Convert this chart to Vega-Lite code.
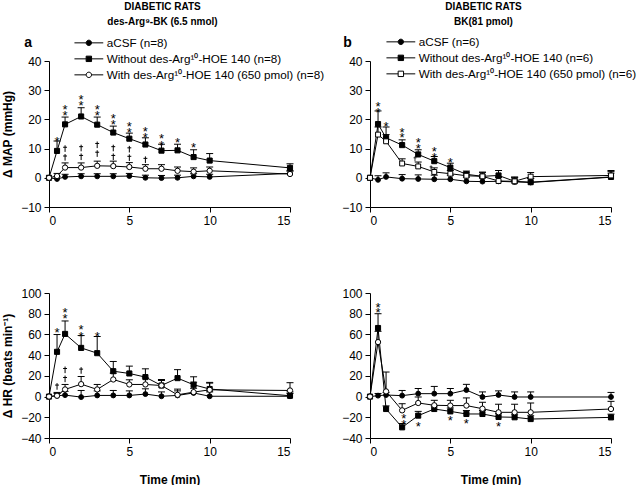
{
"$schema": "https://vega.github.io/schema/vega-lite/v6.json",
"background": "white",
"padding": {"left": 1, "top": 2, "right": 0, "bottom": 0},
"autosize": {"type": "pad"},
"columns": 2,
"spacing": {"row": 86, "column": 80},
"bounds": "flush",
"resolve": {"scale": {"shape": "independent", "fill": "independent", "stroke": "independent"}, "legend": {"shape": "independent", "fill": "independent", "stroke": "independent"}},
"config": {
  "view": {"stroke": null},
  "font": "Liberation Sans",
  "axis": {"domainColor": "black", "tickColor": "black", "labelColor": "black", "labelFont": "Liberation Sans", "labelFontSize": 12, "tickSize": 5, "labelPadding": 3, "grid": false, "labelOverlap": false, "titleFont": "Liberation Sans", "titleFontSize": 12, "titleFontWeight": "bold", "titleColor": "black"},
  "title": {"font": "Liberation Sans", "fontSize": 10, "fontWeight": "bold", "color": "black", "anchor": "middle", "lineHeight": 15, "offset": 9}
},
"datasets": {
  "d": [
    {"p":"aT","s":"aCSF","t":0,"v":0},{"p":"aT","s":"aCSF","t":0.5,"v":-0.4,"hi":0.5},{"p":"aT","s":"aCSF","t":1,"v":0.3,"hi":1.2},{"p":"aT","s":"aCSF","t":2,"v":0.5,"hi":1.4},{"p":"aT","s":"aCSF","t":3,"v":0.5,"hi":1.4},{"p":"aT","s":"aCSF","t":4,"v":0.5,"hi":1.4},{"p":"aT","s":"aCSF","t":5,"v":0.6,"hi":1.5},{"p":"aT","s":"aCSF","t":6,"v":0,"hi":0.9},{"p":"aT","s":"aCSF","t":7,"v":-0.1,"hi":0.8},{"p":"aT","s":"aCSF","t":8,"v":0,"hi":0.9},{"p":"aT","s":"aCSF","t":9,"v":0.5,"hi":1.4},{"p":"aT","s":"aCSF","t":10,"v":0.3,"hi":1.2},{"p":"aT","s":"aCSF","t":15,"v":1.5,"hi":2.4},
    {"p":"aT","s":"Without","t":0,"v":0},{"p":"aT","s":"Without","t":0.5,"v":9.2,"hi":12.6},{"p":"aT","s":"Without","t":1,"v":18.3,"hi":20.8},{"p":"aT","s":"Without","t":2,"v":21,"hi":24},{"p":"aT","s":"Without","t":3,"v":18.2,"hi":20.8},{"p":"aT","s":"Without","t":4,"v":15.5,"hi":17.7},{"p":"aT","s":"Without","t":5,"v":13.4,"hi":15.3},{"p":"aT","s":"Without","t":6,"v":11.4,"hi":13.7},{"p":"aT","s":"Without","t":7,"v":9.3,"hi":11.5},{"p":"aT","s":"Without","t":8,"v":9.4,"hi":11.5},{"p":"aT","s":"Without","t":9,"v":7.1,"hi":9.6},{"p":"aT","s":"Without","t":10,"v":5.9,"hi":8.3},{"p":"aT","s":"Without","t":15,"v":3.4,"hi":4.8},
    {"p":"aT","s":"With","t":0,"v":0},{"p":"aT","s":"With","t":0.5,"v":0.6,"hi":1.5},{"p":"aT","s":"With","t":1,"v":3.5,"hi":5.1},{"p":"aT","s":"With","t":2,"v":3.5,"hi":5.1},{"p":"aT","s":"With","t":3,"v":4.1,"hi":5.7},{"p":"aT","s":"With","t":4,"v":4,"hi":5.7},{"p":"aT","s":"With","t":5,"v":3.7,"hi":5.2},{"p":"aT","s":"With","t":6,"v":3.1,"hi":4.5},{"p":"aT","s":"With","t":7,"v":3.1,"hi":4.5},{"p":"aT","s":"With","t":8,"v":2.4,"hi":3.7},{"p":"aT","s":"With","t":9,"v":2.1,"hi":3.4},{"p":"aT","s":"With","t":10,"v":2.4,"hi":3.7},{"p":"aT","s":"With","t":15,"v":1.3,"hi":2.3},

    {"p":"bT","s":"aCSF","t":0,"v":0},{"p":"bT","s":"aCSF","t":0.5,"v":-0.7,"hi":0.7},{"p":"bT","s":"aCSF","t":1,"v":0.3,"hi":1.7},{"p":"bT","s":"aCSF","t":2,"v":-0.3,"hi":1.1},{"p":"bT","s":"aCSF","t":3,"v":-0.4,"hi":1.0},{"p":"bT","s":"aCSF","t":4,"v":-0.5,"hi":0.9},{"p":"bT","s":"aCSF","t":5,"v":-0.5,"hi":0.9},{"p":"bT","s":"aCSF","t":6,"v":-1.2,"hi":0.2},{"p":"bT","s":"aCSF","t":7,"v":-1.3,"hi":0.1},{"p":"bT","s":"aCSF","t":8,"v":-1.2,"hi":0.2},{"p":"bT","s":"aCSF","t":9,"v":-1.4,"hi":0},{"p":"bT","s":"aCSF","t":10,"v":-1.6,"hi":-0.2},{"p":"bT","s":"aCSF","t":15,"v":0.2,"hi":1.6},
    {"p":"bT","s":"Without","t":0,"v":0},{"p":"bT","s":"Without","t":0.5,"v":18.4,"hi":22.9},{"p":"bT","s":"Without","t":1,"v":13.7,"hi":17.4},{"p":"bT","s":"Without","t":2,"v":11.2,"hi":13},{"p":"bT","s":"Without","t":3,"v":8,"hi":9.6},{"p":"bT","s":"Without","t":4,"v":5.7,"hi":7.3},{"p":"bT","s":"Without","t":5,"v":3.5,"hi":5},{"p":"bT","s":"Without","t":6,"v":1.2,"hi":2.3},{"p":"bT","s":"Without","t":7,"v":0.5,"hi":1.9},{"p":"bT","s":"Without","t":8,"v":0.8,"hi":2.5},{"p":"bT","s":"Without","t":9,"v":-1.2,"hi":0.3},{"p":"bT","s":"Without","t":10,"v":-1.5,"hi":-0.3},{"p":"bT","s":"Without","t":15,"v":0.3,"hi":2.5},
    {"p":"bT","s":"With","t":0,"v":0},{"p":"bT","s":"With","t":0.5,"v":14.8,"hi":17.4},{"p":"bT","s":"With","t":1,"v":12.5,"hi":14.8},{"p":"bT","s":"With","t":2,"v":4.9,"hi":6.5},{"p":"bT","s":"With","t":3,"v":3.9,"hi":5.4},{"p":"bT","s":"With","t":4,"v":2,"hi":3.4},{"p":"bT","s":"With","t":5,"v":1.4,"hi":2.5},{"p":"bT","s":"With","t":6,"v":0.7,"hi":1.9},{"p":"bT","s":"With","t":7,"v":0.5,"hi":1.9},{"p":"bT","s":"With","t":8,"v":-1.1,"hi":0.3},{"p":"bT","s":"With","t":9,"v":-1.2,"hi":0},{"p":"bT","s":"With","t":10,"v":0.4,"hi":1.8},{"p":"bT","s":"With","t":15,"v":0.8,"hi":2.2},

    {"p":"aB","s":"aCSF","t":0,"v":0},{"p":"aB","s":"aCSF","t":0.5,"v":0.8,"hi":4},{"p":"aB","s":"aCSF","t":1,"v":1.4,"hi":5},{"p":"aB","s":"aCSF","t":2,"v":-0.5,"hi":5.9},{"p":"aB","s":"aCSF","t":3,"v":1.1,"hi":5.5},{"p":"aB","s":"aCSF","t":4,"v":1.1,"hi":5.9},{"p":"aB","s":"aCSF","t":5,"v":1.1,"hi":5.5},{"p":"aB","s":"aCSF","t":6,"v":2.4,"hi":7.5},{"p":"aB","s":"aCSF","t":7,"v":0.3,"hi":4.5},{"p":"aB","s":"aCSF","t":8,"v":1.1,"hi":5.5},{"p":"aB","s":"aCSF","t":9,"v":3.5,"hi":8},{"p":"aB","s":"aCSF","t":10,"v":0.3,"hi":4.5},{"p":"aB","s":"aCSF","t":15,"v":0.3,"hi":4.5},
    {"p":"aB","s":"Without","t":0,"v":0},{"p":"aB","s":"Without","t":0.5,"v":43.2,"hi":59.9},{"p":"aB","s":"Without","t":1,"v":60.5,"hi":73},{"p":"aB","s":"Without","t":2,"v":47,"hi":58.9},{"p":"aB","s":"Without","t":3,"v":41.9,"hi":58},{"p":"aB","s":"Without","t":4,"v":24.5,"hi":33.9},{"p":"aB","s":"Without","t":5,"v":22.3,"hi":29.4},{"p":"aB","s":"Without","t":6,"v":18.8,"hi":26.8},{"p":"aB","s":"Without","t":7,"v":10.7,"hi":16.5},{"p":"aB","s":"Without","t":8,"v":17.8,"hi":26},{"p":"aB","s":"Without","t":9,"v":11.4,"hi":19.1},{"p":"aB","s":"Without","t":10,"v":7.3,"hi":13.7},{"p":"aB","s":"Without","t":15,"v":0.8,"hi":3},
    {"p":"aB","s":"With","t":0,"v":0},{"p":"aB","s":"With","t":0.5,"v":0.8,"hi":3},{"p":"aB","s":"With","t":1,"v":6.9,"hi":11.7},{"p":"aB","s":"With","t":2,"v":12,"hi":19.4},{"p":"aB","s":"With","t":3,"v":6.9,"hi":11.7},{"p":"aB","s":"With","t":4,"v":16.5,"hi":22.6},{"p":"aB","s":"With","t":5,"v":11.7,"hi":16.2},{"p":"aB","s":"With","t":6,"v":11.7,"hi":18},{"p":"aB","s":"With","t":7,"v":10.7,"hi":15.5},{"p":"aB","s":"With","t":8,"v":1.7,"hi":7.2},{"p":"aB","s":"With","t":9,"v":4.3,"hi":13.9},{"p":"aB","s":"With","t":10,"v":6.5,"hi":13},{"p":"aB","s":"With","t":15,"v":5.9,"hi":13.4},

    {"p":"bB","s":"aCSF","t":0,"v":0},{"p":"bB","s":"aCSF","t":0.5,"v":0.9,"hi":3},{"p":"bB","s":"aCSF","t":1,"v":1.5,"hi":4},{"p":"bB","s":"aCSF","t":2,"v":0.9,"hi":5.9},{"p":"bB","s":"aCSF","t":3,"v":2.8,"hi":7.8},{"p":"bB","s":"aCSF","t":4,"v":2.8,"hi":9.8},{"p":"bB","s":"aCSF","t":5,"v":2.8,"hi":7.8},{"p":"bB","s":"aCSF","t":6,"v":6.3,"hi":11.8},{"p":"bB","s":"aCSF","t":7,"v":-0.4,"hi":4.5},{"p":"bB","s":"aCSF","t":8,"v":1.5,"hi":5.5},{"p":"bB","s":"aCSF","t":9,"v":-0.4,"hi":4.5},{"p":"bB","s":"aCSF","t":10,"v":-0.4,"hi":4.5},{"p":"bB","s":"aCSF","t":15,"v":-0.4,"hi":4},
    {"p":"bB","s":"Without","t":0,"v":0},{"p":"bB","s":"Without","t":0.5,"v":66.2,"hi":80},{"p":"bB","s":"Without","t":1,"v":-12,"hi":-9},{"p":"bB","s":"Without","t":2,"v":-29.7,"hi":-26},{"p":"bB","s":"Without","t":3,"v":-18.4,"hi":-14.3},{"p":"bB","s":"Without","t":4,"v":-12,"hi":-9},{"p":"bB","s":"Without","t":5,"v":-14.3,"hi":-11},{"p":"bB","s":"Without","t":6,"v":-16.8,"hi":-13.5},{"p":"bB","s":"Without","t":7,"v":-16.8,"hi":-13.5},{"p":"bB","s":"Without","t":8,"v":-19.7,"hi":-16.5},{"p":"bB","s":"Without","t":9,"v":-20,"hi":-17},{"p":"bB","s":"Without","t":10,"v":-21.7,"hi":-18.5},{"p":"bB","s":"Without","t":15,"v":-20.1,"hi":-17},
    {"p":"bB","s":"With","t":0,"v":0},{"p":"bB","s":"With","t":0.5,"v":52.6,"hi":63},{"p":"bB","s":"With","t":1,"v":5,"hi":23.7},{"p":"bB","s":"With","t":2,"v":-13.3,"hi":-6.9},{"p":"bB","s":"With","t":3,"v":-6.2,"hi":-0.4},{"p":"bB","s":"With","t":4,"v":-8.4,"hi":-3.6},{"p":"bB","s":"With","t":5,"v":-8.7,"hi":-3.6},{"p":"bB","s":"With","t":6,"v":-8.7,"hi":-1.3},{"p":"bB","s":"With","t":7,"v":-11.7,"hi":-5.5},{"p":"bB","s":"With","t":8,"v":-15.2,"hi":-7.4},{"p":"bB","s":"With","t":9,"v":-15.2,"hi":-7.4},{"p":"bB","s":"With","t":10,"v":-15.2,"hi":-6.2},{"p":"bB","s":"With","t":15,"v":-12,"hi":-4.6}
  ],
  "ann": [
    {"p":"aT","t":0.5,"v":13.4,"m":"*"},{"p":"aT","t":1,"v":24.2,"m":"*"},{"p":"aT","t":1,"v":22.1,"m":"*"},{"p":"aT","t":2,"v":27.7,"m":"*"},{"p":"aT","t":2,"v":25.5,"m":"*"},{"p":"aT","t":3,"v":24.2,"m":"*"},{"p":"aT","t":3,"v":22.1,"m":"*"},{"p":"aT","t":4,"v":21,"m":"*"},{"p":"aT","t":4,"v":19,"m":"*"},{"p":"aT","t":5,"v":18.5,"m":"*"},{"p":"aT","t":5,"v":16.4,"m":"*"},{"p":"aT","t":6,"v":16.8,"m":"*"},{"p":"aT","t":6,"v":14.6,"m":"*"},{"p":"aT","t":7,"v":14.2,"m":"*"},{"p":"aT","t":7,"v":12,"m":"*"},{"p":"aT","t":8,"v":13,"m":"*"},{"p":"aT","t":9,"v":11.3,"m":"*"},
    {"p":"aT","t":1,"v":10,"m":"†"},{"p":"aT","t":1,"v":7,"m":"†"},{"p":"aT","t":2,"v":10.2,"m":"†"},{"p":"aT","t":2,"v":7.2,"m":"†"},{"p":"aT","t":3,"v":11.3,"m":"†"},{"p":"aT","t":3,"v":8.3,"m":"†"},{"p":"aT","t":4,"v":10.2,"m":"†"},{"p":"aT","t":4,"v":7.2,"m":"†"},{"p":"aT","t":5,"v":9.8,"m":"†"},{"p":"aT","t":5,"v":6.9,"m":"†"},{"p":"aT","t":6,"v":6.2,"m":"†"},
    {"p":"bT","t":0.5,"v":25.2,"m":"*"},{"p":"bT","t":0.5,"v":23.1,"m":"*"},{"p":"bT","t":1,"v":18.5,"m":"*"},{"p":"bT","t":2,"v":16.5,"m":"*"},{"p":"bT","t":2,"v":14.5,"m":"*"},{"p":"bT","t":3,"v":12.8,"m":"*"},{"p":"bT","t":3,"v":10.8,"m":"*"},{"p":"bT","t":4,"v":10,"m":"*"},{"p":"bT","t":4,"v":7.9,"m":"*"},{"p":"bT","t":5,"v":6.2,"m":"*"},
    {"p":"bT","t":2.8,"v":6.5,"m":"†"},{"p":"bT","t":3.8,"v":3.4,"m":"†"},
    {"p":"aB","t":0.5,"v":64.7,"m":"*"},{"p":"aB","t":1,"v":83.9,"m":"*"},{"p":"aB","t":1,"v":78.2,"m":"*"},{"p":"aB","t":2,"v":66.9,"m":"*"},{"p":"aB","t":2,"v":60.5,"m":"*"},{"p":"aB","t":3,"v":60.5,"m":"*"},
    {"p":"aB","t":0.5,"v":9.8,"m":"†"},{"p":"aB","t":1,"v":25.8,"m":"†"},{"p":"aB","t":1,"v":17.1,"m":"†"},{"p":"aB","t":2,"v":25.2,"m":"†"},
    {"p":"bB","t":0.5,"v":88.7,"m":"*"},{"p":"bB","t":0.5,"v":83.2,"m":"*"},{"p":"bB","t":2.1,"v":-18.4,"m":"*"},{"p":"bB","t":2.1,"v":-24.6,"m":"*"},{"p":"bB","t":3,"v":-26.2,"m":"*"},{"p":"bB","t":5,"v":-21,"m":"*"},{"p":"bB","t":6,"v":-23.9,"m":"*"},{"p":"bB","t":8,"v":-26.8,"m":"*"},
    {"p":"aT","t":-1.3,"v":46,"m":"a"},{"p":"bT","t":-1.4,"v":46,"m":"b"}
  ]
},
"concat": [
  {
    "width": 241, "height": 146,
    "title": {"text": ["DIABETIC RATS", "des-Arg⁹-BK (6.5 nmol)"], "dx": -7},
    "data": {"name": "d"},
    "transform": [{"filter": "datum.p == 'aT'"}],
    "encoding": {"x": {"field": "t", "type": "quantitative", "scale": {"domain": [0, 15]}, "axis": {"values": [0, 5, 10, 15], "title": null, "labelOverlap": false}}},
    "layer": [
      {"mark": {"type": "line", "stroke": "black", "strokeWidth": 1}, "encoding": {"y": {"field": "v", "type": "quantitative", "scale": {"domain": [-10, 40], "nice": false}, "axis": {"tickCount": 5, "labelOverlap": false, "labelFontSize": 12, "title": "Δ MAP (mmHg)", "titlePadding": 6}}, "detail": {"field": "s"}}},
      {"transform": [{"filter": "isValid(datum.hi)"}], "mark": {"type": "rule", "stroke": "black", "strokeWidth": 1}, "encoding": {"y": {"field": "v", "type": "quantitative"}, "y2": {"field": "hi"}}},
      {"transform": [{"filter": "isValid(datum.hi)"}], "mark": {"type": "tick", "orient": "horizontal", "size": 7, "thickness": 1, "color": "black", "opacity": 1}, "encoding": {"y": {"field": "hi", "type": "quantitative"}}},
      {"transform": [{"filter": "datum.s == 'aCSF'"}], "mark": {"type": "point", "shape": "circle", "filled": true, "fill": "black", "stroke": "black", "strokeWidth": 1, "size": 24, "opacity": 1}, "encoding": {"y": {"field": "v", "type": "quantitative"}}},
      {"transform": [{"filter": "datum.s == 'Without'"}], "mark": {"type": "point", "shape": "square", "filled": true, "fill": "black", "stroke": "black", "strokeWidth": 1, "size": 26, "opacity": 1}, "encoding": {"y": {"field": "v", "type": "quantitative"}}},
      {"transform": [{"filter": "datum.s == 'With'"}], "mark": {"type": "point", "shape": "circle", "filled": true, "fill": "white", "stroke": "black", "strokeWidth": 1, "size": 28, "opacity": 1}, "encoding": {"y": {"field": "v", "type": "quantitative"}}},
      {"data": {"name": "ann"}, "transform": [{"filter": "datum.p == 'aT' && datum.m == '*'"}], "mark": {"type": "text", "fontSize": 13, "align": "center", "baseline": "middle", "dy": 3, "color": "black"}, "encoding": {"y": {"field": "v", "type": "quantitative"}, "text": {"field": "m"}}},
      {"data": {"name": "ann"}, "transform": [{"filter": "datum.p == 'aT' && datum.m == '†'"}], "mark": {"type": "point", "shape": "M0,-1.1V1.1M-0.65,-0.45H0.65", "filled": false, "stroke": "black", "strokeWidth": 1, "size": 36, "opacity": 1}, "encoding": {"y": {"field": "v", "type": "quantitative"}}},
      {"data": {"name": "ann"}, "transform": [{"filter": "datum.p == 'aT' && datum.m == 'a'"}], "mark": {"type": "text", "fontSize": 14, "fontWeight": "bold", "align": "center", "baseline": "middle", "color": "black"}, "encoding": {"y": {"field": "v", "type": "quantitative"}, "text": {"field": "m"}}},
      {"mark": {"type": "point", "filled": true, "opacity": 0}, "encoding": {"y": {"field": "v", "type": "quantitative"},
        "shape": {"field": "s", "type": "nominal", "scale": {"domain": ["aCSF", "Without", "With"], "range": ["M-4.8,0H-0.9M0.9,0H4.8M-0.9,0A0.9,0.9,0,1,1,0.9,0A0.9,0.9,0,1,1,-0.9,0Z", "M-4.8,0H-0.9M0.9,0H4.8M-0.9,-0.9H0.9V0.9H-0.9Z", "M-4.8,0H-0.9M0.9,0H4.8M-0.9,0A0.9,0.9,0,1,1,0.9,0A0.9,0.9,0,1,1,-0.9,0Z"]},
          "legend": {"orient": "none", "legendX": 34, "legendY": -24, "title": null, "padding": 0, "labelFont": "Liberation Sans", "labelFontSize": 11.7, "labelColor": "black", "labelLimit": 400, "symbolSize": 36, "symbolStrokeColor": "black", "symbolStrokeWidth": 1, "symbolOpacity": 1, "labelOffset": 12, "rowPadding": 3, "labelExpr": "datum.label == 'aCSF' ? 'aCSF (n=8)' : datum.label == 'Without' ? 'Without des-Arg¹⁰-HOE 140 (n=8)' : 'With des-Arg¹⁰-HOE 140 (650 pmol) (n=8)'"}},
        "fill": {"field": "s", "type": "nominal", "scale": {"domain": ["aCSF", "Without", "With"], "range": ["black", "black", "white"]}},
        "stroke": {"field": "s", "type": "nominal", "scale": {"domain": ["aCSF", "Without", "With"], "range": ["black", "black", "black"]}}}}
    ]
  },
  {
    "width": 241, "height": 146,
    "title": {"text": ["DIABETIC RATS", "BK(81 pmol)"], "dx": -7},
    "data": {"name": "d"},
    "transform": [{"filter": "datum.p == 'bT'"}],
    "encoding": {"x": {"field": "t", "type": "quantitative", "scale": {"domain": [0, 15]}, "axis": {"values": [0, 5, 10, 15], "title": null, "labelOverlap": false}}},
    "layer": [
      {"mark": {"type": "line", "stroke": "black", "strokeWidth": 1}, "encoding": {"y": {"field": "v", "type": "quantitative", "scale": {"domain": [-10, 40], "nice": false}, "axis": {"tickCount": 5, "labelOverlap": false, "labelFontSize": 12, "title": null}}, "detail": {"field": "s"}}},
      {"transform": [{"filter": "isValid(datum.hi)"}], "mark": {"type": "rule", "stroke": "black", "strokeWidth": 1}, "encoding": {"y": {"field": "v", "type": "quantitative"}, "y2": {"field": "hi"}}},
      {"transform": [{"filter": "isValid(datum.hi)"}], "mark": {"type": "tick", "orient": "horizontal", "size": 7, "thickness": 1, "color": "black", "opacity": 1}, "encoding": {"y": {"field": "hi", "type": "quantitative"}}},
      {"transform": [{"filter": "datum.s == 'aCSF'"}], "mark": {"type": "point", "shape": "circle", "filled": true, "fill": "black", "stroke": "black", "strokeWidth": 1, "size": 24, "opacity": 1}, "encoding": {"y": {"field": "v", "type": "quantitative"}}},
      {"transform": [{"filter": "datum.s == 'Without'"}], "mark": {"type": "point", "shape": "square", "filled": true, "fill": "black", "stroke": "black", "strokeWidth": 1, "size": 26, "opacity": 1}, "encoding": {"y": {"field": "v", "type": "quantitative"}}},
      {"transform": [{"filter": "datum.s == 'With'"}], "mark": {"type": "point", "shape": "square", "filled": true, "fill": "white", "stroke": "black", "strokeWidth": 1, "size": 24, "opacity": 1}, "encoding": {"y": {"field": "v", "type": "quantitative"}}},
      {"data": {"name": "ann"}, "transform": [{"filter": "datum.p == 'bT' && datum.m == '*'"}], "mark": {"type": "text", "fontSize": 13, "align": "center", "baseline": "middle", "dy": 3, "color": "black"}, "encoding": {"y": {"field": "v", "type": "quantitative"}, "text": {"field": "m"}}},
      {"data": {"name": "ann"}, "transform": [{"filter": "datum.p == 'bT' && datum.m == '†'"}], "mark": {"type": "point", "shape": "M0,-1.1V1.1M-0.65,-0.45H0.65", "filled": false, "stroke": "black", "strokeWidth": 0.8, "size": 20, "opacity": 1}, "encoding": {"y": {"field": "v", "type": "quantitative"}}},
      {"data": {"name": "ann"}, "transform": [{"filter": "datum.p == 'bT' && datum.m == 'b'"}], "mark": {"type": "text", "fontSize": 14, "fontWeight": "bold", "align": "center", "baseline": "middle", "color": "black"}, "encoding": {"y": {"field": "v", "type": "quantitative"}, "text": {"field": "m"}}},
      {"mark": {"type": "point", "filled": true, "opacity": 0}, "encoding": {"y": {"field": "v", "type": "quantitative"},
        "shape": {"field": "s", "type": "nominal", "scale": {"domain": ["aCSF", "Without", "With"], "range": ["M-4.8,0H-0.9M0.9,0H4.8M-0.9,0A0.9,0.9,0,1,1,0.9,0A0.9,0.9,0,1,1,-0.9,0Z", "M-4.8,0H-0.9M0.9,0H4.8M-0.9,-0.9H0.9V0.9H-0.9Z", "M-4.8,0H-0.9M0.9,0H4.8M-0.9,-0.9H0.9V0.9H-0.9Z"]},
          "legend": {"orient": "none", "legendX": 25, "legendY": -25, "title": null, "padding": 0, "labelFont": "Liberation Sans", "labelFontSize": 11.7, "labelColor": "black", "labelLimit": 400, "symbolSize": 36, "symbolStrokeColor": "black", "symbolStrokeWidth": 1, "symbolOpacity": 1, "labelOffset": 12, "rowPadding": 3, "labelExpr": "datum.label == 'aCSF' ? 'aCSF (n=6)' : datum.label == 'Without' ? 'Without des-Arg¹⁰-HOE 140 (n=6)' : 'With des-Arg¹⁰-HOE 140 (650 pmol) (n=6)'"}},
        "fill": {"field": "s", "type": "nominal", "scale": {"domain": ["aCSF", "Without", "With"], "range": ["black", "black", "white"]}},
        "stroke": {"field": "s", "type": "nominal", "scale": {"domain": ["aCSF", "Without", "With"], "range": ["black", "black", "black"]}}}}
    ]
  },
  {
    "width": 241, "height": 145,
    "data": {"name": "d"},
    "transform": [{"filter": "datum.p == 'aB'"}],
    "encoding": {"x": {"field": "t", "type": "quantitative", "scale": {"domain": [0, 15]}, "axis": {"values": [0, 5, 10, 15], "title": "Time (min)", "titlePadding": 17, "labelOverlap": false}}},
    "layer": [
      {"mark": {"type": "line", "stroke": "black", "strokeWidth": 1}, "encoding": {"y": {"field": "v", "type": "quantitative", "scale": {"domain": [-40, 100], "nice": false}, "axis": {"tickCount": 7, "labelOverlap": false, "labelFontSize": 12, "title": "Δ HR (beats min⁻¹)", "titlePadding": 6}}, "detail": {"field": "s"}}},
      {"transform": [{"filter": "isValid(datum.hi)"}], "mark": {"type": "rule", "stroke": "black", "strokeWidth": 1}, "encoding": {"y": {"field": "v", "type": "quantitative"}, "y2": {"field": "hi"}}},
      {"transform": [{"filter": "isValid(datum.hi)"}], "mark": {"type": "tick", "orient": "horizontal", "size": 7, "thickness": 1, "color": "black", "opacity": 1}, "encoding": {"y": {"field": "hi", "type": "quantitative"}}},
      {"transform": [{"filter": "datum.s == 'aCSF'"}], "mark": {"type": "point", "shape": "circle", "filled": true, "fill": "black", "stroke": "black", "strokeWidth": 1, "size": 24, "opacity": 1}, "encoding": {"y": {"field": "v", "type": "quantitative"}}},
      {"transform": [{"filter": "datum.s == 'Without'"}], "mark": {"type": "point", "shape": "square", "filled": true, "fill": "black", "stroke": "black", "strokeWidth": 1, "size": 26, "opacity": 1}, "encoding": {"y": {"field": "v", "type": "quantitative"}}},
      {"transform": [{"filter": "datum.s == 'With'"}], "mark": {"type": "point", "shape": "circle", "filled": true, "fill": "white", "stroke": "black", "strokeWidth": 1, "size": 28, "opacity": 1}, "encoding": {"y": {"field": "v", "type": "quantitative"}}},
      {"data": {"name": "ann"}, "transform": [{"filter": "datum.p == 'aB' && datum.m == '*'"}], "mark": {"type": "text", "fontSize": 13, "align": "center", "baseline": "middle", "dy": 3, "color": "black"}, "encoding": {"y": {"field": "v", "type": "quantitative"}, "text": {"field": "m"}}},
      {"data": {"name": "ann"}, "transform": [{"filter": "datum.p == 'aB' && datum.m == '†'"}], "mark": {"type": "point", "shape": "M0,-1.1V1.1M-0.65,-0.45H0.65", "filled": false, "stroke": "black", "strokeWidth": 1, "size": 36, "opacity": 1}, "encoding": {"y": {"field": "v", "type": "quantitative"}}}
    ]
  },
  {
    "width": 241, "height": 145,
    "data": {"name": "d"},
    "transform": [{"filter": "datum.p == 'bB'"}],
    "encoding": {"x": {"field": "t", "type": "quantitative", "scale": {"domain": [0, 15]}, "axis": {"values": [0, 5, 10, 15], "title": "Time (min)", "titlePadding": 17, "labelOverlap": false}}},
    "layer": [
      {"mark": {"type": "line", "stroke": "black", "strokeWidth": 1}, "encoding": {"y": {"field": "v", "type": "quantitative", "scale": {"domain": [-40, 100], "nice": false}, "axis": {"tickCount": 7, "labelOverlap": false, "labelFontSize": 12, "title": null}}, "detail": {"field": "s"}}},
      {"transform": [{"filter": "isValid(datum.hi)"}], "mark": {"type": "rule", "stroke": "black", "strokeWidth": 1}, "encoding": {"y": {"field": "v", "type": "quantitative"}, "y2": {"field": "hi"}}},
      {"transform": [{"filter": "isValid(datum.hi)"}], "mark": {"type": "tick", "orient": "horizontal", "size": 7, "thickness": 1, "color": "black", "opacity": 1}, "encoding": {"y": {"field": "hi", "type": "quantitative"}}},
      {"transform": [{"filter": "datum.s == 'aCSF'"}], "mark": {"type": "point", "shape": "circle", "filled": true, "fill": "black", "stroke": "black", "strokeWidth": 1, "size": 24, "opacity": 1}, "encoding": {"y": {"field": "v", "type": "quantitative"}}},
      {"transform": [{"filter": "datum.s == 'Without'"}], "mark": {"type": "point", "shape": "square", "filled": true, "fill": "black", "stroke": "black", "strokeWidth": 1, "size": 26, "opacity": 1}, "encoding": {"y": {"field": "v", "type": "quantitative"}}},
      {"transform": [{"filter": "datum.s == 'With'"}], "mark": {"type": "point", "shape": "circle", "filled": true, "fill": "white", "stroke": "black", "strokeWidth": 1, "size": 28, "opacity": 1}, "encoding": {"y": {"field": "v", "type": "quantitative"}}},
      {"data": {"name": "ann"}, "transform": [{"filter": "datum.p == 'bB' && datum.m == '*'"}], "mark": {"type": "text", "fontSize": 13, "align": "center", "baseline": "middle", "dy": 3, "color": "black"}, "encoding": {"y": {"field": "v", "type": "quantitative"}, "text": {"field": "m"}}}
    ]
  }
]
}
